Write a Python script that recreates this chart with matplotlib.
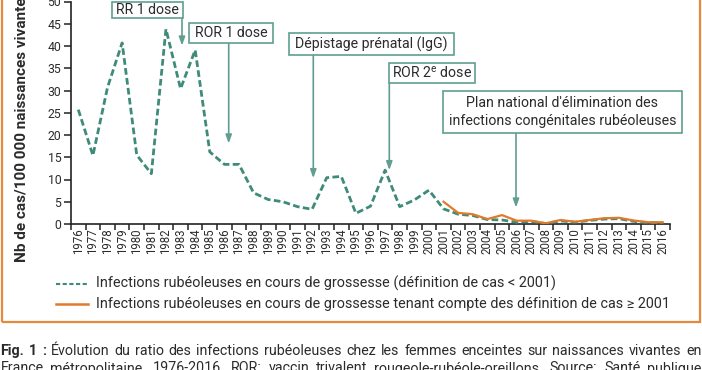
import matplotlib
matplotlib.use("Agg")
import matplotlib.pyplot as plt
from matplotlib.patches import Rectangle
from matplotlib.lines import Line2D

plt.rcParams['font.family'] = ['Roboto', 'DejaVu Sans']
plt.rcParams['mathtext.fontset'] = 'custom'
plt.rcParams['mathtext.rm'] = 'Roboto'

# ---------------- data ----------------
years = list(range(1976, 2017))
series_before_2001 = [25.7, 15.4, 30.7, 40.7, 15.5, 11.3, 43.8, 30.4, 39.1, 16.2,
                      13.4, 13.4, 7.0, 5.5, 5.0, 3.9, 3.3, 10.4, 10.7, 2.4,
                      4.0, 12.1, 3.9, 5.4, 7.6, 3.4, 2.2, 1.9, 1.0, 0.9,
                      0.4, 0.6, 0.1, 0.7, 0.4, 0.8, 1.1, 1.2, 0.6, 0.3, 0.3]
years_after = list(range(2001, 2017))
series_after_2001 = [5.0, 2.5, 2.2, 1.1, 2.0, 0.75, 0.75, 0.15, 0.9, 0.5,
                     0.9, 1.3, 1.4, 0.8, 0.4, 0.4]
legend_labels = ["Infections rubéoleuses en cours de grossesse (définition de cas < 2001)",
                 "Infections rubéoleuses en cours de grossesse tenant compte des définition de cas ≥ 2001"]
ylabel = "Nb de cas/100 000 naissances vivantes"
annotations = ["RR 1 dose", "ROR 1 dose", "Dépistage prénatal (IgG)",
               "ROR 2$^{\\mathrm{e}}$ dose",
               "Plan national d'élimination des\ninfections congénitales rubéoleuses"]
annot_years = [1983, 1986, 1992, 1997, 2006]
annot_tips = [40.1, 18.1, 10.3, 12.1, 3.7]
caption1 = "Fig. 1 : Évolution du ratio des infections rubéoleuses chez les femmes enceintes sur naissances vivantes en"
caption2 = "France métropolitaine, 1976-2016. ROR: vaccin trivalent rougeole-rubéole-oreillons. Source: Santé publique"

# ---------------- style ----------------
W, H = 702, 370
GREEN = '#3f8b79'
ORANGE = '#e07b2c'
TEAL = '#5f9e90'
TXT = '#2b2b2b'
BORDER = '#e58a3a'

fig = plt.figure(figsize=(W / 100, H / 100), dpi=100)
fig.patch.set_facecolor('white')

def fx(px):
    return px / W

def fy(py):
    return 1 - py / H

ax = fig.add_axes([fx(71), fy(224), fx(670) - fx(71), fy(1.5) - fy(224)])
ax.set_facecolor('none')

xi = [y - years[0] for y in years]
xa = [y - years[0] for y in years_after]
ax.plot(xi, series_before_2001, color=GREEN, lw=2.0, linestyle=(0, (2.4, 1.2)),
        solid_capstyle='butt', dash_capstyle='butt', zorder=3)
ax.plot(xa, series_after_2001, color=ORANGE, lw=1.6, zorder=4)

ax.set_xlim(-0.5, len(years) - 0.5)
ax.set_ylim(0, 50)
for s in ['top', 'right']:
    ax.spines[s].set_visible(False)
for s in ['left', 'bottom']:
    ax.spines[s].set_color('#222222')
    ax.spines[s].set_linewidth(1.2)

ax.set_yticks(range(0, 51, 5))
ax.tick_params(axis='y', direction='out', length=5, width=1.1, color='#222222',
               labelsize=8.8, labelcolor=TXT, pad=2)
ax.set_xticks([i - 0.5 for i in range(len(years) + 1)])
ax.set_xticklabels([])
ax.tick_params(axis='x', which='major', direction='out', length=4, width=1.1, color='#222222')
ax.set_xticks(xi, minor=True)
ax.set_xticklabels([str(y) for y in years], minor=True, rotation=90, fontsize=8.3, color=TXT)
ax.tick_params(axis='x', which='minor', length=0, pad=3)

# y label (cut off at top as in reference)
fig.text(fx(22), fy(262), ylabel, rotation=90, ha='center', va='bottom',
         fontsize=11, fontweight='bold', color=TXT)

# annotation boxes (px geometry: left, top, right, bottom) and arrows
boxes = [(112, 2, 183, 18), (189, 23, 273, 43), (289, 33, 454, 55),
         (389, 63, 475, 83), (443, 91, 682, 133)]
arrow_px_x = [182, 228.7, 313.3, 389.3, 516]
for (l, t, r, b), txt, ay, tip, apx in zip(boxes, annotations, annot_years, annot_tips, arrow_px_x):
    fig.patches.append(Rectangle((fx(l), fy(b)), fx(r) - fx(l), fy(t) - fy(b),
                                 transform=fig.transFigure, facecolor='white',
                                 edgecolor=TEAL, lw=1.2, zorder=5))
    fig.text(fx((l + r) / 2), fy((t + b) / 2), txt, ha='center', va='center',
             fontsize=10.2, color=TXT, linespacing=1.3, zorder=6)
    x_data = (apx - 71) / ((670 - 71) / len(years)) - 0.5
    start_y = (224 - b) / ((224 - 1.5) / 50)
    ax.annotate('', xy=(x_data, tip), xytext=(x_data, start_y),
                arrowprops=dict(arrowstyle='-|>,head_length=0.5,head_width=0.18',
                                color=TEAL, lw=1.2, shrinkA=0, shrinkB=0),
                annotation_clip=False, zorder=5)

# legend drawn manually
fig.lines.append(Line2D([fx(56), fx(88)], [fy(283.5), fy(283.5)], transform=fig.transFigure,
                        color=GREEN, lw=1.5, linestyle=(0, (2, 1.2))))
fig.lines.append(Line2D([fx(56), fx(88)], [fy(304), fy(304)], transform=fig.transFigure,
                        color=ORANGE, lw=1.8))
fig.text(fx(96), fy(283.5), legend_labels[0], ha='left', va='center', fontsize=10.4, color=TXT)
fig.text(fx(96), fy(304), legend_labels[1], ha='left', va='center', fontsize=10.4, color=TXT)

# orange frame
fig.patches.append(Rectangle((fx(1.5), fy(322)), fx(699.5) - fx(1.5), fy(-10) - fy(322),
                             transform=fig.transFigure, facecolor='none',
                             edgecolor=BORDER, lw=1.6, clip_on=False))

# justified caption lines
renderer = fig.canvas.get_renderer()

def justified(line, py, bold_words=0, size=10.3):
    words = line.split(' ')
    texts = []
    for k, w in enumerate(words):
        t = fig.text(0, fy(py), w, ha='left', va='center', fontsize=size, color=TXT,
                     fontweight='bold' if k < bold_words else 'normal')
        texts.append(t)
    widths = [t.get_window_extent(renderer).width for t in texts]
    gap = (W - 1 - sum(widths)) / (len(words) - 1)
    x = 0.5
    for t, wd in zip(texts, widths):
        t.set_x(fx(x))
        x += wd + gap

justified(caption1, 351, bold_words=3)
justified(caption2, 368.5)

fig.savefig('out.png', dpi=100)
